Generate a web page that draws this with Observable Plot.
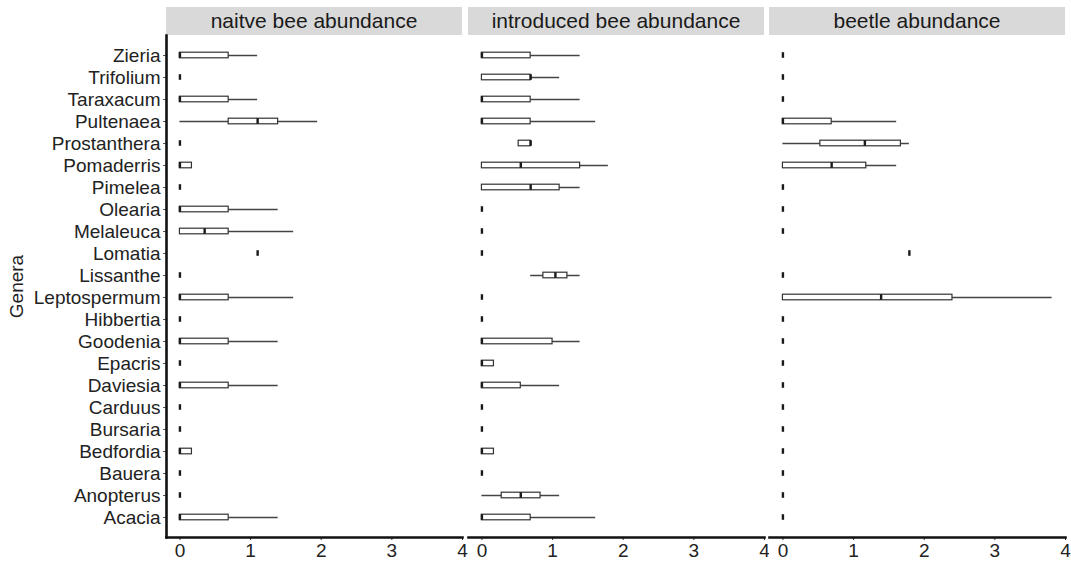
<!DOCTYPE html>
<html>
<head>
<meta charset="utf-8">
<script src="https://cdn.jsdelivr.net/npm/d3@7"></script>
<script src="https://cdn.jsdelivr.net/npm/@observablehq/plot@0.6"></script>
<style>
  body { margin: 0; background: #fff; font-family: "Liberation Sans", Arial, sans-serif; }
  #chart { display: flex; align-items: flex-start; width: 1071px; height: 563px; padding-top: 7px; box-sizing: border-box; }
  .panel { display: flex; flex-direction: column; }
  .strip { height: 28px; background: #d9d9d9; color: #1a1a1a; font-size: 21px;
           display: flex; align-items: center; justify-content: center; white-space: nowrap; }
  svg { display: block; }
</style>
</head>
<body>
<div id="chart"></div>
<script>
// Plant genera (alphabetical); drawn with Acacia at the bottom.
const genera = ["Acacia", "Anopterus", "Bauera", "Bedfordia", "Bursaria", "Carduus",
  "Daviesia", "Epacris", "Goodenia", "Hibbertia", "Leptospermum", "Lissanthe", "Lomatia",
  "Melaleuca", "Olearia", "Pimelea", "Pomaderris", "Prostanthera", "Pultenaea",
  "Taraxacum", "Trifolium", "Zieria"];

const panelTitles = ["naitve bee abundance", "introduced bee abundance", "beetle abundance"];

// Five-number summaries [min, q1, median, q3, max] of log(abundance + 1), in genera order.
const naiveBee = [
  [0, 0, 0, 0.69, 1.39], [0, 0, 0, 0, 0], [0, 0, 0, 0, 0], [0, 0, 0, 0.17, 0.17],
  [0, 0, 0, 0, 0], [0, 0, 0, 0, 0], [0, 0, 0, 0.69, 1.39], [0, 0, 0, 0, 0],
  [0, 0, 0, 0.69, 1.39], [0, 0, 0, 0, 0], [0, 0, 0, 0.69, 1.61], [0, 0, 0, 0, 0],
  [1.10, 1.10, 1.10, 1.10, 1.10], [0, 0, 0.35, 0.69, 1.61], [0, 0, 0, 0.69, 1.39],
  [0, 0, 0, 0, 0], [0, 0, 0, 0.17, 0.17], [0, 0, 0, 0, 0], [0, 0.69, 1.10, 1.39, 1.95],
  [0, 0, 0, 0.69, 1.10], [0, 0, 0, 0, 0], [0, 0, 0, 0.69, 1.10]
];
const introducedBee = [
  [0, 0, 0, 0.69, 1.61], [0, 0.28, 0.55, 0.83, 1.10], [0, 0, 0, 0, 0], [0, 0, 0, 0.17, 0.17],
  [0, 0, 0, 0, 0], [0, 0, 0, 0, 0], [0, 0, 0, 0.55, 1.10], [0, 0, 0, 0.17, 0.17],
  [0, 0, 0, 1.00, 1.39], [0, 0, 0, 0, 0], [0, 0, 0, 0, 0], [0.69, 0.87, 1.04, 1.21, 1.39],
  [0, 0, 0, 0, 0], [0, 0, 0, 0, 0], [0, 0, 0, 0, 0], [0, 0, 0.69, 1.10, 1.39],
  [0, 0, 0.55, 1.39, 1.79], [0.52, 0.52, 0.69, 0.69, 0.69], [0, 0, 0, 0.69, 1.61],
  [0, 0, 0, 0.69, 1.39], [0, 0, 0.69, 0.69, 1.10], [0, 0, 0, 0.69, 1.39]
];
const beetle = [
  [0, 0, 0, 0, 0], [0, 0, 0, 0, 0], [0, 0, 0, 0, 0], [0, 0, 0, 0, 0],
  [0, 0, 0, 0, 0], [0, 0, 0, 0, 0], [0, 0, 0, 0, 0], [0, 0, 0, 0, 0],
  [0, 0, 0, 0, 0], [0, 0, 0, 0, 0], [0, 0, 1.39, 2.40, 3.81], [0, 0, 0, 0, 0],
  [1.79, 1.79, 1.79, 1.79, 1.79], [0, 0, 0, 0, 0], [0, 0, 0, 0, 0], [0, 0, 0, 0, 0],
  [0, 0, 0.69, 1.18, 1.61], [0, 0.53, 1.16, 1.67, 1.79], [0, 0, 0, 0.69, 1.61],
  [0, 0, 0, 0, 0], [0, 0, 0, 0, 0], [0, 0, 0, 0, 0]
];

const xTicks = [0, 1, 2, 3, 4];
const xDomain = [-0.19, 4.0];

const textColor = "#222";
const boxInset = 8.2;

function makePanel(summary, title, first) {
  const rows = genera.map((genus, i) => {
    const [lo, q1, med, q3, hi] = summary[i];
    return {genus, lo, q1, med, q3, hi};
  });
  const plotWidth = first ? 462 : 296;
  const svg = Plot.plot({
    width: plotWidth,
    height: 528,
    marginTop: 0,
    marginBottom: 26,
    marginLeft: first ? 166 : 0,
    marginRight: 0,
    style: {fontFamily: "'Liberation Sans', Arial, sans-serif", fontSize: "19px", color: textColor, background: "#fff", overflow: "visible"},
    x: {domain: xDomain, axis: null},
    y: {type: "band", domain: genera.slice().reverse(), paddingInner: 0, paddingOuter: 0.1, axis: null},
    marks: [
      Plot.ruleY(rows, {y: "genus", x1: "lo", x2: "hi", stroke: "#444", strokeWidth: 1.4}),
      Plot.barX(rows, {y: "genus", x1: "q1", x2: "q3", fill: "#fff", stroke: "#333", strokeWidth: 1.2,
                       insetTop: boxInset, insetBottom: boxInset}),
      Plot.tickX(rows, {y: "genus", x: "med", stroke: "#1a1a1a", strokeWidth: 2.4,
                        insetTop: boxInset, insetBottom: boxInset}),
      Plot.axisX({ticks: xTicks, tickFormat: d => String(d), tickSize: 3, tickPadding: 3,
                  label: null, fontSize: 19, stroke: "#333"}),
      Plot.frame({anchor: "bottom", stroke: "#111", strokeWidth: 2.6}),
      first ? Plot.axisY({tickSize: 3, tickPadding: 3, fontSize: 19, stroke: "#555",
                          label: "Genera", labelAnchor: "center", labelArrow: "none", labelOffset: 157}) : null,
      first ? Plot.frame({anchor: "left", stroke: "#111", strokeWidth: 2.6}) : null
    ]
  });
  const panel = document.createElement("div");
  panel.className = "panel";
  const strip = document.createElement("div");
  strip.className = "strip";
  strip.textContent = title;
  strip.style.marginLeft = (first ? 166 : 0) + "px";
  strip.style.width = (first ? 296 : plotWidth) + "px";
  panel.appendChild(strip);
  panel.appendChild(svg);
  return panel;
}

const chart = document.getElementById("chart");
const panels = [naiveBee, introducedBee, beetle];
const gaps = [0, 6, 5];
panels.forEach((summary, i) => {
  const p = makePanel(summary, panelTitles[i], i === 0);
  p.style.marginLeft = gaps[i] + "px";
  chart.appendChild(p);
});
</script>
</body>
</html>
